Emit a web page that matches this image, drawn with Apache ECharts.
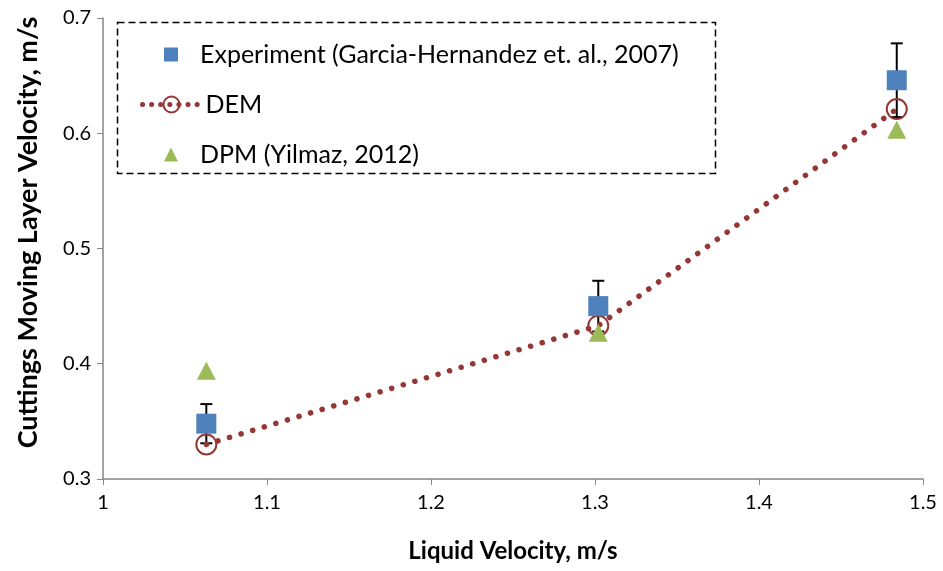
<!DOCTYPE html>
<html>
<head>
<meta charset="utf-8">
<script src="https://cdn.jsdelivr.net/npm/echarts@6/dist/echarts.min.js"></script>
<style>
  html, body { margin: 0; padding: 0; background: #fff; }
  #chart { width: 943px; height: 571px; }
</style>
</head>
<body>
<div id="chart"></div>
<script>
// data
const liquidVel = [1.063, 1.302, 1.484];
const expVel = [0.348, 0.450, 0.646];
const expErr = [0.017, 0.022, 0.032];
const demVel = [0.330, 0.433, 0.621];
const dpmVel = [0.394, 0.427, 0.603];
const xTicks = [1, 1.5, 0.1];
const yTicks = [0.3, 0.7, 0.1];

const NAME_EXP = 'Experiment (Garcia-Hernandez et. al., 2007)';
const NAME_DEM = 'DEM';
const NAME_DPM = 'DPM (Yilmaz, 2012)';
const FONT = 'Lato';

const pairs = (xs, ys) => xs.map((x, i) => [x, ys[i]]);

const myChart = echarts.init(document.getElementById('chart'));

const legendText = { fontFamily: FONT, fontSize: 25, color: '#000' };

const option = {
  animation: false,
  grid: { left: 103, right: 20, top: 18, bottom: 92 },
  graphic: [
    {
      type: 'rect',
      shape: { x: 117.5, y: 22.5, width: 598, height: 151 },
      style: { fill: '#fff', stroke: '#000', lineWidth: 1.5, lineDash: [7, 4] },
      z: 10
    }
  ],
  legend: [
    {
      data: [NAME_EXP], orient: 'vertical', selectedMode: false,
      left: 159, top: 37, itemWidth: 14, itemHeight: 14,
      textStyle: Object.assign({}, legendText, { padding: [0, 0, 0, 17] }), z: 20
    },
    {
      data: [NAME_DEM], orient: 'vertical', selectedMode: false,
      left: 135, top: 87, itemWidth: 58, itemHeight: 20,
      lineStyle: { width: 5, type: [0.1, 9], cap: 'round' },
      textStyle: legendText, z: 20
    },
    {
      data: [NAME_DPM], orient: 'vertical', selectedMode: false,
      left: 159, top: 137, itemWidth: 14, itemHeight: 14,
      textStyle: Object.assign({}, legendText, { padding: [0, 0, 0, 17] }), z: 20
    }
  ],
  xAxis: {
    type: 'value',
    min: xTicks[0], max: xTicks[1], interval: xTicks[2],
    name: 'Liquid Velocity, m/s',
    nameLocation: 'middle',
    nameGap: 60,
    nameTextStyle: { fontFamily: FONT, fontSize: 24, fontWeight: 'bold', color: '#000' },
    axisLine: { lineStyle: { color: '#868686', width: 1.5 } },
    axisTick: { show: true, length: 6, lineStyle: { color: '#868686' } },
    axisLabel: { fontFamily: FONT, fontSize: 20, color: '#000', margin: 14,
      formatter: v => String(+v.toFixed(1)) },
    splitLine: { show: false }
  },
  yAxis: {
    type: 'value',
    min: yTicks[0], max: yTicks[1], interval: yTicks[2],
    name: 'Cuttings Moving Layer Velocity, m/s',
    nameLocation: 'middle',
    nameGap: 61,
    nameTextStyle: { fontFamily: FONT, fontSize: 27, fontWeight: 'bold', color: '#000',
      padding: [0, 0, 0, 32] },
    axisLine: { show: true, lineStyle: { color: '#868686', width: 1.5 } },
    axisTick: { show: true, length: 6, lineStyle: { color: '#868686' } },
    axisLabel: { fontFamily: FONT, fontSize: 20, color: '#000', margin: 12,
      formatter: v => v.toFixed(1) },
    splitLine: { show: false }
  },
  series: [
    {
      name: 'errbars',
      type: 'custom',
      z: 1,
      data: liquidVel.map((x, i) => [x, expVel[i] - expErr[i], expVel[i] + expErr[i]]),
      renderItem: (params, api) => {
        const lo = api.coord([api.value(0), api.value(1)]);
        const hi = api.coord([api.value(0), api.value(2)]);
        const w = 6;
        const st = { stroke: '#000', lineWidth: 2 };
        return {
          type: 'group',
          children: [
            { type: 'line', shape: { x1: lo[0], y1: lo[1], x2: hi[0], y2: hi[1] }, style: st },
            { type: 'line', shape: { x1: hi[0] - w, y1: hi[1], x2: hi[0] + w, y2: hi[1] }, style: st },
            { type: 'line', shape: { x1: lo[0] - w, y1: lo[1], x2: lo[0] + w, y2: lo[1] }, style: st }
          ]
        };
      }
    },
    {
      name: NAME_DEM,
      type: 'line',
      z: 2,
      data: pairs(liquidVel, demVel),
      symbol: 'circle',
      symbolSize: 20,
      color: '#953735',
      itemStyle: { color: 'rgba(255,255,255,0)', borderColor: '#953735', borderWidth: 2 },
      lineStyle: { color: '#953735', width: 5.5, type: [0.1, 12], cap: 'round' }
    },
    {
      name: NAME_EXP,
      type: 'scatter',
      z: 3,
      data: pairs(liquidVel, expVel),
      symbol: 'rect',
      symbolSize: 20,
      itemStyle: { color: '#4F81BD', opacity: 1 }
    },
    {
      name: NAME_DPM,
      type: 'scatter',
      z: 4,
      data: pairs(liquidVel, dpmVel),
      symbol: 'triangle',
      symbolSize: [19, 18],
      itemStyle: { color: '#9BBB59', opacity: 1 }
    }
  ]
};

myChart.setOption(option);
</script>
</body>
</html>
